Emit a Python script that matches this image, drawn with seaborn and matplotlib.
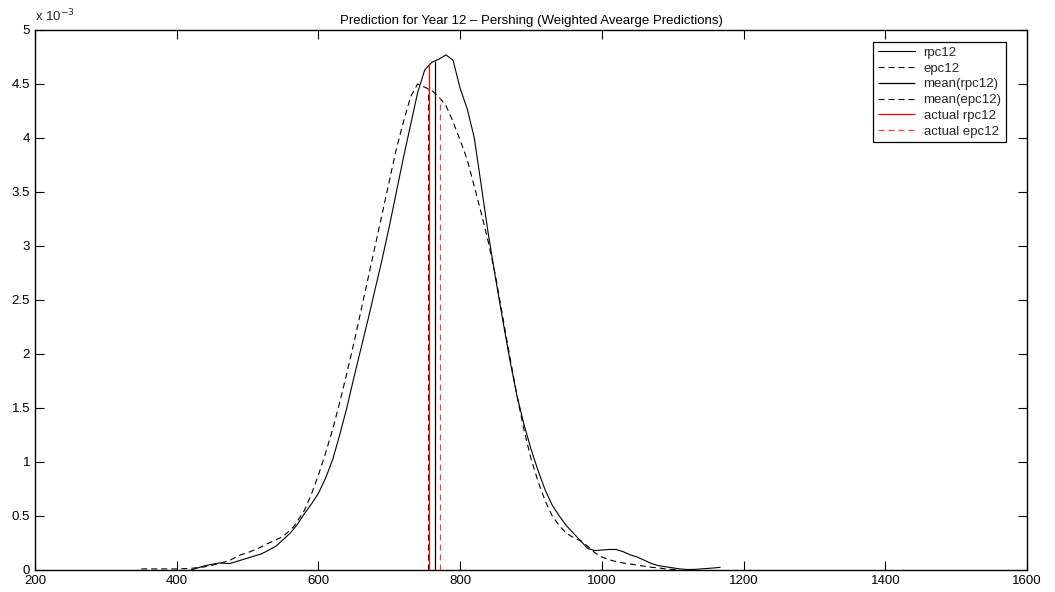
import numpy as np
import pandas as pd
import matplotlib
matplotlib.use("Agg")
import matplotlib.pyplot as plt
import seaborn as sns

# Kernel density of the year-12 predictions (density values in units of 1e-3)
rpc12_x = [420, 440, 460, 475, 490, 500, 520, 540, 560, 570, 580, 590, 600, 610,
           620, 630, 640, 650, 660, 670, 680, 690, 700, 710, 720, 730, 740, 750,
           760, 770, 780, 790, 800, 810, 820, 830, 840, 850, 860, 870, 880, 890,
           900, 910, 920, 930, 940, 950, 960, 970, 980, 990, 1000, 1010, 1020,
           1030, 1040, 1050, 1060, 1070, 1080, 1090, 1100, 1110, 1120, 1130,
           1140, 1150, 1160, 1167]
rpc12_y = [0.0, 0.04, 0.065, 0.06, 0.09, 0.11, 0.15, 0.22, 0.34, 0.42, 0.52, 0.61,
           0.71, 0.85, 1.02, 1.25, 1.5, 1.78, 2.05, 2.32, 2.6, 2.88, 3.18, 3.5,
           3.82, 4.12, 4.42, 4.63, 4.70, 4.73, 4.77, 4.72, 4.46, 4.27, 4.0, 3.55,
           3.1, 2.7, 2.32, 1.95, 1.62, 1.35, 1.12, 0.92, 0.74, 0.6, 0.5, 0.41,
           0.34, 0.27, 0.2, 0.18, 0.185, 0.19, 0.19, 0.17, 0.14, 0.12, 0.09, 0.06,
           0.04, 0.03, 0.02, 0.01, 0.005, 0.005, 0.01, 0.015, 0.02, 0.025]

epc12_x = [350, 380, 400, 420, 440, 460, 475, 490, 500, 515, 530, 550, 565, 580,
           590, 600, 610, 620, 630, 640, 650, 660, 670, 680, 690, 700, 710, 720,
           730, 740, 750, 760, 770, 780, 790, 800, 810, 820, 830, 840, 850, 860,
           870, 880, 890, 900, 910, 920, 930, 940, 950, 960, 970, 980, 990, 1000,
           1010, 1020, 1030, 1040, 1050, 1060, 1070, 1080, 1090, 1100, 1110]
epc12_y = [0.01, 0.01, 0.01, 0.015, 0.03, 0.06, 0.09, 0.14, 0.16, 0.2, 0.25, 0.31,
           0.4, 0.55, 0.7, 0.88, 1.08, 1.3, 1.55, 1.82, 2.1, 2.4, 2.7, 3.0, 3.3,
           3.6, 3.9, 4.15, 4.38, 4.5, 4.47, 4.44, 4.38, 4.3, 4.15, 3.98, 3.8, 3.55,
           3.3, 3.03, 2.72, 2.35, 1.98, 1.62, 1.3, 1.03, 0.82, 0.64, 0.5, 0.41,
           0.34, 0.3, 0.27, 0.22, 0.16, 0.12, 0.095, 0.078, 0.065, 0.055, 0.045,
           0.035, 0.025, 0.02, 0.01, 0.005, 0.002]

# Means of the predictive distributions and the actual observed values
mean_rpc12 = 764
mean_epc12 = 755
actual_rpc12 = 756
actual_epc12 = 771

x_ticks = [200, 400, 600, 800, 1000, 1200, 1400, 1600]
y_ticks = [0, 0.5, 1, 1.5, 2, 2.5, 3, 3.5, 4, 4.5, 5]
y_tick_labels = ["0", "0.5", "1", "1.5", "2", "2.5", "3", "3.5", "4", "4.5", "5"]

sns.set_theme(style="white")
plt.rcParams["font.family"] = ["Liberation Sans", "DejaVu Sans"]
plt.rcParams["lines.scale_dashes"] = False
plt.rcParams["axes.edgecolor"] = "black"
plt.rcParams["axes.linewidth"] = 1.0

FS = 9.5

fig = plt.figure(figsize=(10.55, 5.92), dpi=100)
ax = fig.add_axes([35 / 1055, 22 / 592, 992 / 1055, 540 / 592])

dash = (0, (4.3, 2.9))

rpc = pd.DataFrame({"x": rpc12_x, "y": rpc12_y})
epc = pd.DataFrame({"x": epc12_x, "y": epc12_y})
sns.lineplot(data=rpc, x="x", y="y", ax=ax, color="black", lw=0.8,
             sort=False, label="rpc12")
sns.lineplot(data=epc, x="x", y="y", ax=ax, color="black", lw=0.8,
             sort=False, label="epc12", linestyle=dash)

# Vertical markers reach up to the density curve they belong to
def height(xv, xs, ys):
    return float(np.interp(xv, xs, ys))

ax.vlines(mean_rpc12, 0, height(mean_rpc12, rpc12_x, rpc12_y), color="black",
          lw=0.9, label="mean(rpc12)")
ax.vlines(mean_epc12, 0, height(mean_epc12, epc12_x, epc12_y), color="black",
          lw=0.8, linestyles=[dash], label="mean(epc12)")
ax.vlines(actual_rpc12, 0, height(actual_rpc12, rpc12_x, rpc12_y), color="red",
          lw=0.9, label="actual rpc12")
ax.vlines(actual_epc12, 0, height(actual_epc12, epc12_x, epc12_y), color="#ff3a3a",
          lw=0.9, linestyles=[dash], label="actual epc12")

ax.set_xlim(200, 1600)
ax.set_ylim(0, 5)
ax.set_xticks(x_ticks)
ax.set_xticklabels([str(t) for t in x_ticks])
ax.set_yticks(y_ticks)
ax.set_yticklabels(y_tick_labels)
ax.set_xlabel("")
ax.set_ylabel("")
ax.tick_params(axis="both", which="both", direction="in", length=6.8, width=0.8,
               color="black", labelsize=FS, labelcolor="black",
               top=True, right=True, bottom=True, left=True, pad=3.5)
for s in ax.spines.values():
    s.set_visible(True)
    s.set_color("black")
    s.set_linewidth(1.0)

ax.set_title("Prediction for Year 12 \u2013 Pershing (Weighted Avearge Predictions)",
             fontsize=FS, color="black", pad=4)
ax.text(0.0, 1.01, r"x 10$^{-3}$", transform=ax.transAxes, fontsize=FS,
        ha="left", va="bottom")

leg = ax.legend(loc="upper right", bbox_to_anchor=(0.979, 0.978),
                borderaxespad=0.0, fontsize=FS, frameon=True, fancybox=False,
                edgecolor="black", framealpha=1, handlelength=2.8,
                labelspacing=0.27, borderpad=0.35, handletextpad=0.65)
leg.get_frame().set_linewidth(0.9)

fig.savefig("out.png", dpi=100, facecolor="white")
